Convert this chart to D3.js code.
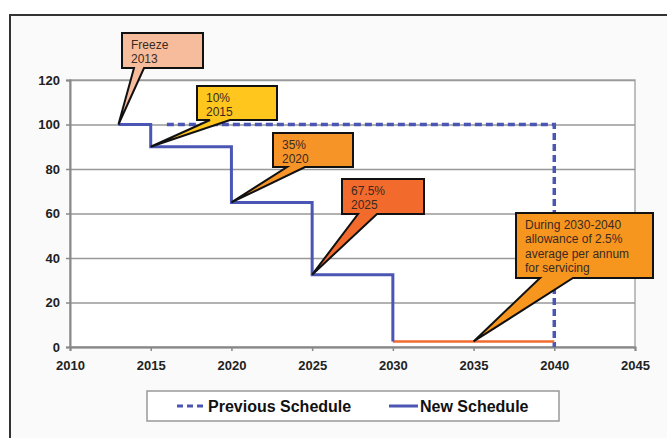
<!DOCTYPE html>
<html>
<head>
<meta charset="utf-8">
<script src="https://cdn.jsdelivr.net/npm/d3@7"></script>
<style>
  body { margin: 0; background: #fff; }
  svg { display: block; font-family: Arial, "Liberation Sans", sans-serif; }
</style>
</head>
<body>
<div id="chart"></div>
<script>
// data
var xTicks = [2010, 2015, 2020, 2025, 2030, 2035, 2040, 2045];
var yTicks = [0, 20, 40, 60, 80, 100, 120];

var prevYears = [2016, 2040, 2040];
var prevValues = [100, 100, 0];

var newYears = [2013, 2015, 2020, 2025, 2030];
var newValues = [100, 90, 65, 32.5, 2.5];

var servYears = [2030, 2040];
var servValues = [2.5, 2.5];

var calloutText = [
  ["Freeze", "2013"],
  ["10%", "2015"],
  ["35%", "2020"],
  ["67.5%", "2025"],
  ["During 2030-2040", "allowance of 2.5%", "average per annum", "for servicing"]
];
var calloutYear = [2013, 2015, 2020, 2025, 2035];
var calloutValue = [100, 90, 65, 32.5, 2.5];

var legendNames = ["Previous Schedule", "New Schedule"];

// layout
var W = 667, H = 438;
var blue = "#4b55b3";
var boxes = [ // x, y, w, h, base left, base right, fill
  { x: 122, y: 33, w: 81, h: 35, b0: 134, b1: 144, fill: "#f7bc9c" },
  { x: 197, y: 86, w: 80, h: 34, b0: 210, b1: 230, fill: "#ffc61e" },
  { x: 273, y: 133, w: 80, h: 34, b0: 287, b1: 305, fill: "#f79428" },
  { x: 342, y: 179, w: 82, h: 35, b0: 358, b1: 377, fill: "#f26a2c" },
  { x: 516, y: 213, w: 137, h: 65, b0: 540, b1: 573, fill: "#f7961f" }
];

var svg = d3.select("#chart").append("svg")
  .attr("width", W)
  .attr("height", H);

// outer frame
svg.append("rect")
  .attr("x", 10).attr("y", 15)
  .attr("width", W).attr("height", H)
  .style("fill", "#fafafa")
  .style("stroke", "#333")
  .style("stroke-width", 2);

var x = d3.scaleLinear().domain([2010, 2045]).range([70, 635]);
var y = d3.scaleLinear().domain([0, 120]).range([347, 80]);

// plot area
svg.append("rect")
  .attr("x", x(2010)).attr("y", y(120))
  .attr("width", x(2045) - x(2010))
  .attr("height", y(0) - y(120))
  .style("fill", "#fff")
  .style("stroke", "#aaa")
  .style("stroke-width", 1.5);

// gridlines
svg.append("g")
  .attr("class", "grid")
  .attr("transform", "translate(" + x(2010) + ",0)")
  .call(d3.axisLeft(y).tickValues(yTicks).tickSize(-(x(2045) - x(2010))).tickFormat(""))
  .call(function (g) { g.select(".domain").remove(); })
  .selectAll("line")
  .style("stroke", "#999")
  .style("stroke-width", 1.5);

// axes
var yAxis = svg.append("g")
  .attr("transform", "translate(" + x(2010) + ",0)")
  .call(d3.axisLeft(y).tickValues(yTicks).tickSize(4).tickPadding(6));
var xAxis = svg.append("g")
  .attr("transform", "translate(0," + y(0) + ")")
  .call(d3.axisBottom(x).tickValues(xTicks).tickFormat(d3.format("d")).tickSize(4).tickPadding(10));

[xAxis, yAxis].forEach(function (g) {
  g.select(".domain").style("stroke", "#888").style("stroke-width", 2);
  g.selectAll(".tick line").style("stroke", "#888").style("stroke-width", 1.5);
  g.selectAll(".tick text")
    .style("font-family", "Arial, 'Liberation Sans', sans-serif")
    .style("font-size", "13px")
    .style("font-weight", "bold")
    .style("fill", "#222");
});

function pts(xs, vs) {
  return xs.map(function (d, i) { return [d, vs[i]]; });
}

// previous schedule (dashed)
svg.append("path")
  .datum(pts(prevYears, prevValues))
  .attr("d", d3.line().x(function (d) { return x(d[0]); }).y(function (d) { return y(d[1]); }))
  .style("fill", "none")
  .style("stroke", blue)
  .style("stroke-width", 3.5)
  .style("stroke-dasharray", "7,4");

// servicing allowance
svg.append("path")
  .datum(pts(servYears, servValues))
  .attr("d", d3.line().x(function (d) { return x(d[0]); }).y(function (d) { return y(d[1]); }))
  .style("fill", "none")
  .style("stroke", "#f26b2e")
  .style("stroke-width", 2.5);

// new schedule (solid steps)
svg.append("path")
  .datum(pts(newYears, newValues))
  .attr("d", d3.line().curve(d3.curveStepAfter)
    .x(function (d) { return x(d[0]); })
    .y(function (d) { return y(d[1]); }))
  .style("fill", "none")
  .style("stroke", blue)
  .style("stroke-width", 3);

// callouts
boxes.forEach(function (b, i) {
  var tx = x(calloutYear[i]), ty = y(calloutValue[i]);
  var p = d3.path();
  p.moveTo(b.x, b.y);
  p.lineTo(b.x + b.w, b.y);
  p.lineTo(b.x + b.w, b.y + b.h);
  p.lineTo(b.b1, b.y + b.h);
  p.lineTo(tx, ty);
  p.lineTo(b.b0, b.y + b.h);
  p.lineTo(b.x, b.y + b.h);
  p.closePath();
  svg.append("path")
    .attr("d", p.toString())
    .style("fill", b.fill)
    .style("stroke", "#111")
    .style("stroke-width", 2)
    .style("stroke-linejoin", "miter");

  svg.append("text")
    .attr("x", b.x + 9)
    .attr("y", b.y + 16)
    .style("font-size", "12px")
    .style("fill", "#3a2a22")
    .selectAll("tspan")
    .data(calloutText[i])
    .enter()
    .append("tspan")
    .attr("x", b.x + 9)
    .attr("dy", function (d, j) { return j == 0 ? 0 : 14.3; })
    .text(function (d) { return d; });
});

// legend
svg.append("rect")
  .attr("x", 147).attr("y", 391)
  .attr("width", 412).attr("height", 30)
  .style("fill", "#fff")
  .style("stroke", "#999")
  .style("stroke-width", 1.5);

var legX = [177, 389];
legendNames.forEach(function (name, i) {
  svg.append("line")
    .attr("x1", legX[i]).attr("x2", legX[i] + 29)
    .attr("y1", 406).attr("y2", 406)
    .style("stroke", blue)
    .style("stroke-width", 3)
    .style("stroke-dasharray", i == 0 ? "6,4" : null);
  svg.append("text")
    .attr("x", legX[i] + 31)
    .attr("y", 406)
    .attr("dy", "0.36em")
    .style("font-size", "16px")
    .style("font-weight", "bold")
    .style("fill", "#111")
    .text(name);
});
</script>
</body>
</html>
